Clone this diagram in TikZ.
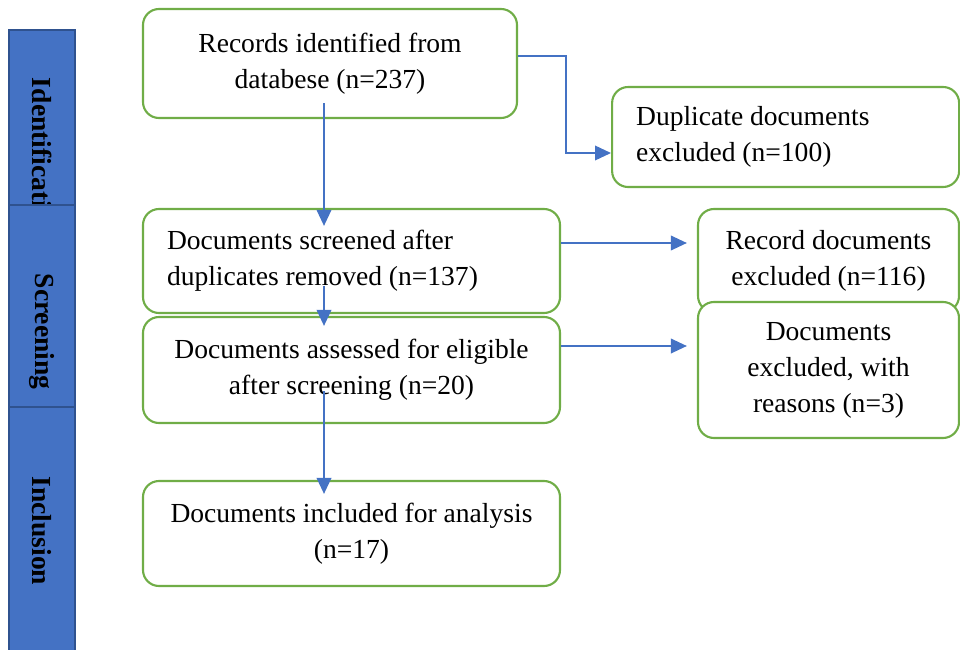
\documentclass[tikz,border=0pt]{standalone}
\usepackage{fontspec}
\setmainfont{Liberation Serif}
\usepackage{xcolor}
\usetikzlibrary{positioning, arrows.meta, calc}

\definecolor{boxgreen}{HTML}{70AD47}
\definecolor{flowblue}{HTML}{4472C4}
\definecolor{bardark}{HTML}{2F528F}

\begin{document}
\begin{tikzpicture}[
  >=Triangle,
  font=\fontsize{19.6}{25.6}\selectfont,
  box/.style={draw=boxgreen, line width=1.5pt, fill=white, rounded corners=0.4cm, align=center, inner sep=0pt},
  leftbox/.style={box, align=flush left, inner xsep=0.6cm},
  stage/.style={draw=bardark, line width=1pt, fill=flowblue},
  stagelabel/.style={rotate=-90, font=\fontsize{19.6}{25.6}\selectfont\bfseries},
  arrow/.style={-{Triangle[length=0.4cm, width=0.36cm]}, line width=1.6pt, color=flowblue},
]
\useasboundingbox (0,0) rectangle (24,-16.225);

% ================= stage bars =================
\draw[stage] (0.225,-0.75) rectangle (1.875,-7.125);
\node[stagelabel] (ident) at (1.05,-3.94) {Identification};
\draw[stage] (0.225,-5.125) rectangle (1.875,-11.45);
\node[stagelabel] (screening) at (1.05,-8.29) {Screening};
\draw[stage] (0.225,-10.175) rectangle (1.875,-16.6);
\node[stagelabel] (inclusion) at (1.05,-13.27) {Inclusion};

% ================= boxes =================
\node[box, minimum width=9.35cm, minimum height=2.725cm] (records) at (8.25,-1.5875) {Records identified from\\databese (n=237)};
\node[leftbox, text width=7.475cm, minimum height=2.5cm] (duplicate) at (19.64,-3.425) {Duplicate documents\\excluded (n=100)};
\node[leftbox, text width=9.225cm, minimum height=2.6cm] (screened) at (8.7875,-6.525) {Documents screened after\\duplicates removed (n=137)};
\node[box, minimum width=6.525cm, minimum height=2.575cm] (recexcl) at (20.7125,-6.5125) {Record documents\\excluded (n=116)};
\node[box, minimum width=10.425cm, minimum height=2.65cm] (assessed) at (8.7875,-9.25) {Documents assessed for eligible\\after screening (n=20)};
\node[box, minimum width=6.525cm, minimum height=3.4cm] (reasons) at (20.7125,-9.25) {Documents\\excluded, with\\reasons (n=3)};
\node[box, minimum width=10.425cm, minimum height=2.625cm] (included) at (8.7875,-13.3375) {Documents included for analysis\\(n=17)};

% ================= connectors =================
\draw[arrow] ([xshift=-0.15cm, yshift=0.4cm]records.south) coordinate (a1) -- ([yshift=-0.45cm]a1 |- screened.north);
\draw[arrow] ([yshift=0.7cm]a1 |- screened.south) -- ([yshift=-0.25cm]a1 |- assessed.north);
\draw[arrow] ([yshift=0.825cm]a1 |- assessed.south) -- ([yshift=-0.35cm]a1 |- included.north);

\draw[arrow] ([yshift=0.19cm]records.east) -- ++(1.2,0) |- ([yshift=-0.4cm]duplicate.west);
\coordinate (s1) at ([yshift=0.45cm]screened.east);
\draw[arrow] (s1) -- ([xshift=-0.25cm]recexcl.west |- s1);
\coordinate (s2) at ([yshift=0.6cm]assessed.east);
\draw[arrow] (s2) -- ([xshift=-0.25cm]reasons.west |- s2);

\end{tikzpicture}
\end{document}
